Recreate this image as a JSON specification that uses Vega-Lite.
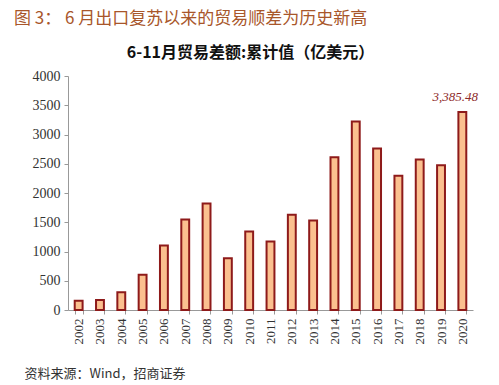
{
  "$schema": "https://vega.github.io/schema/vega-lite/v6.json",
  "width": 405,
  "height": 234,
  "autosize": {"type": "none"},
  "padding": {"left": 68, "top": 76, "right": 26, "bottom": 75},
  "background": "white",
  "title": {
    "text": "图 3： 6 月出口复苏以来的贸易顺差为历史新高",
    "anchor": "start",
    "frame": "group",
    "dx": -54,
    "offset": 16,
    "font": "Noto Sans CJK SC",
    "fontSize": 17,
    "fontWeight": "normal",
    "color": "#A8562A"
  },
  "config": {
    "view": {"stroke": null},
    "font": "Liberation Serif"
  },
  "data": {
    "values": [
      {"year": "2002", "value": 160},
      {"year": "2003", "value": 171},
      {"year": "2004", "value": 302},
      {"year": "2005", "value": 604},
      {"year": "2006", "value": 1101},
      {"year": "2007", "value": 1546},
      {"year": "2008", "value": 1820},
      {"year": "2009", "value": 884},
      {"year": "2010", "value": 1341},
      {"year": "2011", "value": 1169},
      {"year": "2012", "value": 1627},
      {"year": "2013", "value": 1529},
      {"year": "2014", "value": 2613},
      {"year": "2015", "value": 3224},
      {"year": "2016", "value": 2762},
      {"year": "2017", "value": 2294},
      {"year": "2018", "value": 2573},
      {"year": "2019", "value": 2476},
      {"year": "2020", "value": 3385.48}
    ]
  },
  "encoding": {
    "x": {
      "field": "year",
      "type": "ordinal",
      "scale": {"paddingInner": 0.63, "paddingOuter": 0.315},
      "axis": {
        "title": "资料来源：Wind，招商证券",
        "titleFont": "Noto Sans CJK SC",
        "titleFontSize": 13,
        "titleFontWeight": "normal",
        "titleColor": "#333333",
        "titleAlign": "left",
        "titleAnchor": null,
        "titleX": -44,
        "titleY": 67,
        "titleBaseline": "alphabetic",
        "labelAngle": -90,
        "labelFont": "Liberation Serif",
        "labelFontSize": 13,
        "labelColor": "#333333",
        "labelPadding": 4,
        "tickBand": "extent",
        "tickSize": 4,
        "tickColor": "#999999",
        "domainColor": "#999999"
      }
    },
    "y": {
      "field": "value",
      "type": "quantitative",
      "scale": {"domain": [0, 4000]},
      "axis": {
        "values": [0, 500, 1000, 1500, 2000, 2500, 3000, 3500, 4000],
        "format": "d",
        "grid": false,
        "title": "6-11月贸易差额:累计值（亿美元）",
        "titleAngle": 0,
        "titleX": 182,
        "titleY": -19,
        "titleAlign": "center",
        "titleBaseline": "alphabetic",
        "titleFont": "Noto Sans CJK SC",
        "titleFontSize": 16,
        "titleFontWeight": "bold",
        "titleColor": "#111111",
        "labelFont": "Liberation Serif",
        "labelFontSize": 14,
        "labelColor": "#333333",
        "labelPadding": 4,
        "tickSize": 4,
        "tickColor": "#999999",
        "domainColor": "#999999"
      }
    }
  },
  "layer": [
    {
      "mark": {"type": "bar", "fill": "#FBC08F", "stroke": "#8E1A1A", "strokeWidth": 2}
    },
    {
      "transform": [{"filter": "datum.year === '2020'"}],
      "mark": {"type": "text", "dy": -11, "dx": -7, "baseline": "alphabetic", "fontStyle": "italic", "font": "Liberation Serif", "fontSize": 13, "color": "#8E2A2A"},
      "encoding": {"text": {"field": "value", "type": "quantitative", "format": ",.2f"}}
    }
  ]
}
